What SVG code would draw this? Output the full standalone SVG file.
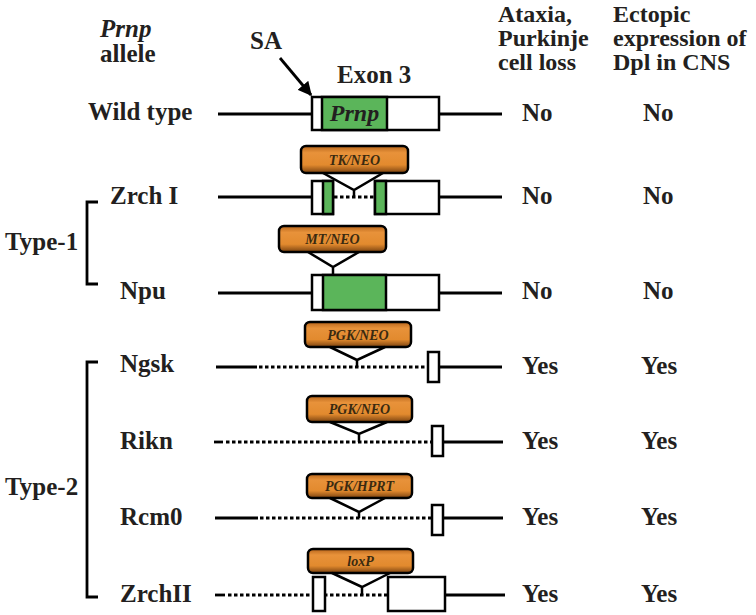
<svg xmlns="http://www.w3.org/2000/svg" width="756" height="615" viewBox="0 0 756 615">
<style>
text{font-family:"Liberation Serif","Times New Roman",serif;font-weight:bold;fill:#231f20}
.t{font-size:25px}
.h{font-size:24px}
.it{font-style:italic}
.cas{font-size:14px;font-style:italic;text-anchor:middle;fill:#3a2a10}
.ln{stroke:#000;stroke-width:2.8;fill:none}
.dot{stroke:#000;stroke-width:3;fill:none;stroke-dasharray:3.5 2.5}
.bx{fill:#fff;stroke:#000;stroke-width:2.5}
.gr{fill:#5bb55a;stroke:#000;stroke-width:2.5}
.cs{fill:url(#og);stroke:#000;stroke-width:2.5}
.v{stroke:#000;stroke-width:2.5;fill:none;stroke-linejoin:miter}
</style>
<defs>
<linearGradient id="og" x1="0" y1="0" x2="0" y2="1">
<stop offset="0" stop-color="#b8661c"/>
<stop offset="0.25" stop-color="#e8923a"/>
<stop offset="0.7" stop-color="#e28a2e"/>
<stop offset="1" stop-color="#7a4210"/>
</linearGradient>
<marker id="ah" viewBox="0 0 10 10" refX="9" refY="5" markerWidth="5" markerHeight="5" orient="auto">
<path d="M0,0 L10,5 L0,10 z" fill="#000"/>
</marker>
</defs>

<g id="headers">
<text class="t it" x="100" y="37">Prnp</text>
<text class="t" x="100" y="62">allele</text>
<text class="t" x="250" y="49">SA</text>
<text class="t" x="337" y="83">Exon 3</text>
<text class="h" x="498" y="22">Ataxia,</text>
<text class="h" x="498" y="46">Purkinje</text>
<text class="h" x="498" y="70">cell loss</text>
<text class="h" x="613" y="22">Ectopic</text>
<text class="h" x="613" y="46">expression of</text>
<text class="h" x="613" y="70">Dpl in CNS</text>
</g>

<g id="brackets">
<path class="ln" d="M98,202 H87 V284 H98"/>
<text class="t" x="5" y="250">Type-1</text>
<path class="ln" d="M98,362 H87 V597 H98"/>
<text class="t" x="5" y="495">Type-2</text>
</g>

<g id="wildtype">
<text class="t" x="88" y="120">Wild type</text>
<line class="ln" x1="218" y1="114" x2="312" y2="114"/>
<line class="ln" x1="439" y1="114" x2="502" y2="114"/>
<rect class="bx" x="312" y="97" width="127" height="33"/>
<rect class="gr" x="322" y="97" width="65" height="33"/>
<text class="it" x="354.5" y="121" font-size="24" text-anchor="middle">Prnp</text>
<text class="t" x="522" y="121">No</text>
<text class="t" x="643" y="121">No</text>
</g>

<g id="zrch1">
<text class="t" x="110" y="204">Zrch I</text>
<line class="ln" x1="218" y1="197" x2="312" y2="197"/>
<line class="dot" x1="334" y1="197" x2="375" y2="197"/>
<line class="ln" x1="439" y1="197" x2="502" y2="197"/>
<rect class="bx" x="312" y="181" width="21" height="33"/>
<rect class="gr" x="323" y="181" width="10" height="33"/>
<rect class="bx" x="375" y="181" width="64" height="33"/>
<rect class="gr" x="375" y="181" width="11" height="33"/>
<rect class="cs" x="301" y="146" width="107" height="27" rx="5"/>
<text class="cas" x="354.5" y="165">TK/NEO</text>
<text class="t" x="522" y="204">No</text>
<text class="t" x="643" y="204">No</text>
</g>

<g id="npu">
<text class="t" x="120" y="299">Npu</text>
<line class="ln" x1="218" y1="293" x2="312" y2="293"/>
<line class="ln" x1="439" y1="293" x2="502" y2="293"/>
<rect class="bx" x="312" y="275" width="127" height="35"/>
<rect class="gr" x="323" y="275" width="63" height="35"/>
<rect class="cs" x="279" y="226" width="107" height="26" rx="5"/>
<text class="cas" x="332.5" y="244">MT/NEO</text>
<text class="t" x="522" y="299">No</text>
<text class="t" x="643" y="299">No</text>
</g>

<g id="ngsk">
<text class="t" x="120" y="372">Ngsk</text>
<line class="ln" x1="216" y1="367" x2="257" y2="367"/>
<line class="dot" x1="259" y1="367" x2="428" y2="367"/>
<line class="ln" x1="439" y1="367" x2="502" y2="367"/>
<rect class="bx" x="428" y="352" width="11" height="30"/>
<rect class="cs" x="305" y="322" width="106" height="25" rx="5"/>
<text class="cas" x="358" y="340">PGK/NEO</text>
<text class="t" x="522" y="374">Yes</text>
<text class="t" x="641" y="374">Yes</text>
</g>

<g id="rikn">
<text class="t" x="120" y="449">Rikn</text>
<line class="ln" x1="214" y1="442" x2="223" y2="442"/>
<line class="dot" x1="226" y1="442" x2="432" y2="442"/>
<line class="ln" x1="443" y1="442" x2="503" y2="442"/>
<rect class="bx" x="432" y="426" width="11" height="30"/>
<rect class="cs" x="307" y="396" width="105" height="26" rx="5"/>
<text class="cas" x="359.5" y="414">PGK/NEO</text>
<text class="t" x="522" y="449">Yes</text>
<text class="t" x="641" y="449">Yes</text>
</g>

<g id="rcm0">
<text class="t" x="120" y="525">Rcm0</text>
<line class="ln" x1="215" y1="518" x2="258" y2="518"/>
<line class="dot" x1="260" y1="518" x2="432" y2="518"/>
<line class="ln" x1="443" y1="518" x2="503" y2="518"/>
<rect class="bx" x="432" y="505" width="11" height="30"/>
<rect class="cs" x="307" y="474" width="105" height="24" rx="5"/>
<text class="cas" x="359.5" y="491">PGK/HPRT</text>
<text class="t" x="522" y="525">Yes</text>
<text class="t" x="641" y="525">Yes</text>
</g>

<g id="zrch2">
<text class="t" x="120" y="602">ZrchII</text>
<line class="ln" x1="215" y1="595" x2="225" y2="595"/>
<line class="dot" x1="228" y1="595" x2="388" y2="595"/>
<line class="ln" x1="445" y1="595" x2="505" y2="595"/>
<rect class="bx" x="313" y="577" width="12" height="34"/>
<rect class="bx" x="388" y="577" width="57" height="34"/>
<rect class="cs" x="308" y="549" width="105" height="24" rx="5"/>
<text class="cas" x="360.5" y="566">loxP</text>
<text class="t" x="522" y="602">Yes</text>
<text class="t" x="641" y="602">Yes</text>
</g>

<g id="connectors">
<line class="ln" x1="280" y1="58" x2="311" y2="95" marker-end="url(#ah)"/>
<path class="v" d="M323,173 L354,190 L383,173 M354,190 V196"/>
<path class="v" d="M308,252 L333,267 L359,252 M333,267 V275"/>
<path class="v" d="M330,347 L357,360 L385,347 M357,360 V367"/>
<path class="v" d="M330,422 L359,434 L387,422 M359,434 V442"/>
<path class="v" d="M330,498 L359,512 L385,498 M359,512 V518"/>
<path class="v" d="M332,573 L362,587 L390,573 M362,587 V595"/>
</g>
</svg>
